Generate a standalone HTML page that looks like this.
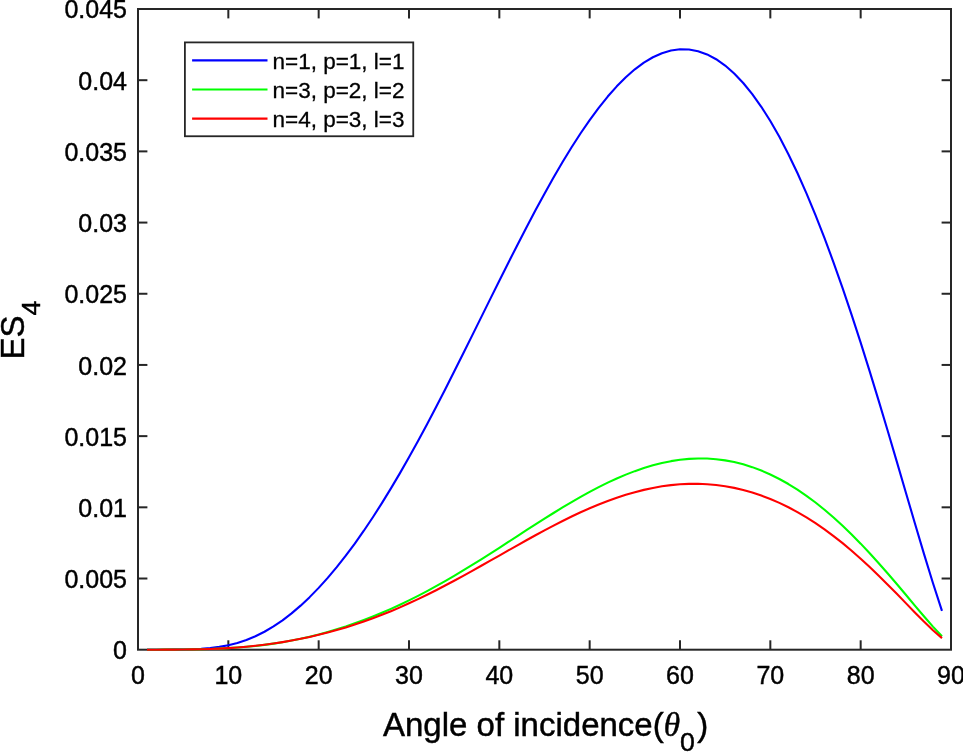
<!DOCTYPE html>
<html lang="en">
<head>
<meta charset="utf-8">
<title>ES4 vs angle of incidence</title>
<style>
html,body{margin:0;padding:0;background:#fff;}
body{width:963px;height:752px;overflow:hidden;}
svg{display:block;}
text{font-family:"Liberation Sans",Arial,Helvetica,sans-serif;fill:#000;stroke:#000;stroke-width:0.45px;}
.tk{font-size:25px;}
.lg{font-size:22.5px;stroke-width:0.3px;}
.lb{font-size:33px;}
.sub{font-size:26.7px;}
.th{font-family:"Liberation Serif","Times New Roman",serif;font-style:italic;font-size:33.3px;}
</style>
</head>
<body>
<svg width="963" height="752" viewBox="0 0 963 752">
<rect x="0" y="0" width="963" height="752" fill="#fff"/>
<g stroke="#262626" stroke-width="2.00" fill="none" stroke-linecap="butt">
<rect x="138.00" y="9.00" width="813.00" height="640.70"/>
<line x1="228.33" y1="649.70" x2="228.33" y2="640.30"/><line x1="228.33" y1="9.00" x2="228.33" y2="18.40"/>
<line x1="318.67" y1="649.70" x2="318.67" y2="640.30"/><line x1="318.67" y1="9.00" x2="318.67" y2="18.40"/>
<line x1="409.00" y1="649.70" x2="409.00" y2="640.30"/><line x1="409.00" y1="9.00" x2="409.00" y2="18.40"/>
<line x1="499.33" y1="649.70" x2="499.33" y2="640.30"/><line x1="499.33" y1="9.00" x2="499.33" y2="18.40"/>
<line x1="589.67" y1="649.70" x2="589.67" y2="640.30"/><line x1="589.67" y1="9.00" x2="589.67" y2="18.40"/>
<line x1="680.00" y1="649.70" x2="680.00" y2="640.30"/><line x1="680.00" y1="9.00" x2="680.00" y2="18.40"/>
<line x1="770.33" y1="649.70" x2="770.33" y2="640.30"/><line x1="770.33" y1="9.00" x2="770.33" y2="18.40"/>
<line x1="860.67" y1="649.70" x2="860.67" y2="640.30"/><line x1="860.67" y1="9.00" x2="860.67" y2="18.40"/>
<line x1="138.00" y1="578.51" x2="147.40" y2="578.51"/><line x1="951.00" y1="578.51" x2="941.60" y2="578.51"/>
<line x1="138.00" y1="507.32" x2="147.40" y2="507.32"/><line x1="951.00" y1="507.32" x2="941.60" y2="507.32"/>
<line x1="138.00" y1="436.13" x2="147.40" y2="436.13"/><line x1="951.00" y1="436.13" x2="941.60" y2="436.13"/>
<line x1="138.00" y1="364.94" x2="147.40" y2="364.94"/><line x1="951.00" y1="364.94" x2="941.60" y2="364.94"/>
<line x1="138.00" y1="293.76" x2="147.40" y2="293.76"/><line x1="951.00" y1="293.76" x2="941.60" y2="293.76"/>
<line x1="138.00" y1="222.57" x2="147.40" y2="222.57"/><line x1="951.00" y1="222.57" x2="941.60" y2="222.57"/>
<line x1="138.00" y1="151.38" x2="147.40" y2="151.38"/><line x1="951.00" y1="151.38" x2="941.60" y2="151.38"/>
<line x1="138.00" y1="80.19" x2="147.40" y2="80.19"/><line x1="951.00" y1="80.19" x2="941.60" y2="80.19"/>
</g>
<polyline points="147.03,649.70 156.07,649.70 165.10,649.69 174.13,649.64 183.17,649.53 192.20,649.28 201.23,648.82 210.27,648.05 219.30,646.87 228.33,645.19 237.37,642.90 246.40,639.93 255.43,636.22 264.47,631.73 273.50,626.42 282.53,620.31 291.57,613.38 300.60,605.65 309.63,597.14 318.67,587.87 327.70,577.86 336.73,567.12 345.77,555.67 354.80,543.53 363.83,530.71 372.87,517.23 381.90,503.12 390.93,488.40 399.97,473.10 409.00,457.26 418.03,440.92 427.07,424.13 436.10,406.94 445.13,389.41 454.17,371.60 463.20,353.57 472.23,335.40 481.27,317.15 490.30,298.90 499.33,280.73 508.37,262.70 517.40,244.90 526.43,227.40 535.47,210.29 544.50,193.65 553.53,177.54 562.57,162.06 571.60,147.27 580.63,133.25 589.67,120.08 598.70,107.83 607.73,96.56 616.77,86.35 625.80,77.25 634.83,69.33 643.87,62.64 652.90,57.24 661.93,53.19 670.97,50.51 680.00,49.26 689.03,49.48 698.07,51.19 707.10,54.42 716.13,59.21 725.17,65.56 734.20,73.48 743.23,83.00 752.27,94.10 761.30,106.78 770.33,121.03 779.37,136.84 788.40,154.18 797.43,173.02 806.47,193.33 815.50,215.05 824.53,238.13 833.57,262.51 842.60,288.12 851.63,314.87 860.67,342.66 869.70,371.37 878.73,400.88 887.77,431.02 896.80,461.62 905.83,492.45 914.87,523.22 923.90,553.59 932.93,583.05 941.97,610.83" fill="none" stroke="#0000ff" stroke-width="2.1" stroke-linejoin="round" stroke-linecap="butt"/>
<polyline points="147.03,649.70 156.07,649.69 165.10,649.67 174.13,649.62 183.17,649.54 192.20,649.41 201.23,649.22 210.27,648.96 219.30,648.60 228.33,648.13 237.37,647.54 246.40,646.81 255.43,645.92 264.47,644.86 273.50,643.62 282.53,642.19 291.57,640.56 300.60,638.73 309.63,636.69 318.67,634.45 327.70,631.99 336.73,629.32 345.77,626.44 354.80,623.34 363.83,620.04 372.87,616.52 381.90,612.79 390.93,608.86 399.97,604.71 409.00,600.37 418.03,595.83 427.07,591.10 436.10,586.18 445.13,581.09 454.17,575.85 463.20,570.45 472.23,564.93 481.27,559.30 490.30,553.57 499.33,547.78 508.37,541.94 517.40,536.08 526.43,530.23 535.47,524.41 544.50,518.66 553.53,513.00 562.57,507.46 571.60,502.08 580.63,496.88 589.67,491.89 598.70,487.14 607.73,482.66 616.77,478.49 625.80,474.63 634.83,471.14 643.87,468.02 652.90,465.30 661.93,463.00 670.97,461.16 680.00,459.77 689.03,458.87 698.07,458.46 707.10,458.57 716.13,459.20 725.17,460.36 734.20,462.07 743.23,464.33 752.27,467.14 761.30,470.52 770.33,474.46 779.37,478.96 788.40,484.02 797.43,489.63 806.47,495.79 815.50,502.50 824.53,509.73 833.57,517.48 842.60,525.73 851.63,534.46 860.67,543.64 869.70,553.23 878.73,563.20 887.77,573.49 896.80,584.04 905.83,594.77 914.87,605.55 923.90,616.24 932.93,626.61 941.97,636.32" fill="none" stroke="#00ff00" stroke-width="2.1" stroke-linejoin="round" stroke-linecap="butt"/>
<polyline points="147.03,649.70 156.07,649.69 165.10,649.67 174.13,649.63 183.17,649.55 192.20,649.42 201.23,649.23 210.27,648.95 219.30,648.58 228.33,648.09 237.37,647.48 246.40,646.72 255.43,645.82 264.47,644.76 273.50,643.53 282.53,642.14 291.57,640.58 300.60,638.84 309.63,636.93 318.67,634.83 327.70,632.56 336.73,630.09 345.77,627.43 354.80,624.58 363.83,621.53 372.87,618.28 381.90,614.84 390.93,611.19 399.97,607.36 409.00,603.33 418.03,599.13 427.07,594.75 436.10,590.22 445.13,585.55 454.17,580.75 463.20,575.84 472.23,570.85 481.27,565.78 490.30,560.67 499.33,555.54 508.37,550.40 517.40,545.29 526.43,540.24 535.47,535.25 544.50,530.37 553.53,525.61 562.57,521.00 571.60,516.56 580.63,512.32 589.67,508.29 598.70,504.51 607.73,500.98 616.77,497.74 625.80,494.79 634.83,492.16 643.87,489.86 652.90,487.91 661.93,486.32 670.97,485.10 680.00,484.27 689.03,483.83 698.07,483.80 707.10,484.18 716.13,484.98 725.17,486.21 734.20,487.87 743.23,489.98 752.27,492.53 761.30,495.53 770.33,498.99 779.37,502.91 788.40,507.28 797.43,512.12 806.47,517.42 815.50,523.18 824.53,529.39 833.57,536.06 842.60,543.17 851.63,550.71 860.67,558.67 869.70,567.00 878.73,575.67 887.77,584.64 896.80,593.82 905.83,603.13 914.87,612.43 923.90,621.55 932.93,630.24 941.97,638.14" fill="none" stroke="#ff0000" stroke-width="2.1" stroke-linejoin="round" stroke-linecap="butt"/>
<g class="tk" text-anchor="middle">
<text x="138.00" y="684.4">0</text><text x="228.33" y="684.4">10</text><text x="318.67" y="684.4">20</text><text x="409.00" y="684.4">30</text><text x="499.33" y="684.4">40</text><text x="589.67" y="684.4">50</text><text x="680.00" y="684.4">60</text><text x="770.33" y="684.4">70</text><text x="860.67" y="684.4">80</text><text x="951.00" y="684.4">90</text>
</g>
<g class="tk" text-anchor="end">
<text x="127" y="659.40">0</text><text x="127" y="588.21">0.005</text><text x="127" y="517.02">0.01</text><text x="127" y="445.83">0.015</text><text x="127" y="374.64">0.02</text><text x="127" y="303.46">0.025</text><text x="127" y="232.27">0.03</text><text x="127" y="161.08">0.035</text><text x="127" y="89.89">0.04</text><text x="127" y="18.20">0.045</text>
</g>
<rect x="184.9" y="42.4" width="228.35" height="93.85" fill="#fff" stroke="#262626" stroke-width="1.8"/>
<line x1="192.1" y1="60.40" x2="267.5" y2="60.40" stroke="#0000ff" stroke-width="2.1"/><text class="lg" x="272.5" y="68.70">n=1, p=1, l=1</text>
<line x1="192.1" y1="89.50" x2="267.5" y2="89.50" stroke="#00ff00" stroke-width="2.1"/><text class="lg" x="272.5" y="97.80">n=3, p=2, l=2</text>
<line x1="192.1" y1="118.60" x2="267.5" y2="118.60" stroke="#ff0000" stroke-width="2.1"/><text class="lg" x="272.5" y="126.90">n=4, p=3, l=3</text>
<text class="lb" x="383" y="736">Angle of incidence(<tspan class="th">θ</tspan><tspan class="sub" dy="14.6">0</tspan><tspan dy="-14.6" dx="2.3">)</tspan></text>
<text class="lb" transform="translate(24.3,359.5) rotate(-90)">ES<tspan class="sub" dy="15.7">4</tspan></text>
</svg>
</body>
</html>
